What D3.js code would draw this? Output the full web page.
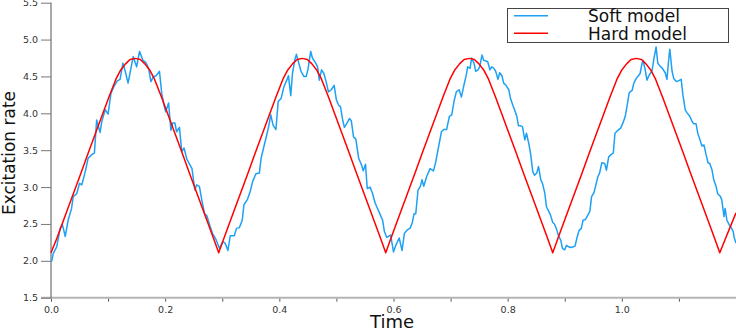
<!DOCTYPE html>
<html>
  <head>
    <script src="https://cdn.jsdelivr.net/npm/d3@7/dist/d3.min.js" charset="utf-8"></script>
    <style>
      body { margin: 0; background: white; }
      text { font-family: "DejaVu Sans", sans-serif; }
    </style>
  </head>
  <body>
    <svg id="chart" width="736" height="331"></svg>

    <script>
      // soft model: noisy trace
      var softT = [0.001,0.004,0.010,0.016,0.020,0.025,0.030,0.036,0.039,0.045,0.050,0.054,0.060,0.065,0.073,0.076,0.080,0.086,0.089,0.095,
        0.100,0.105,0.110,0.116,0.121,0.126,0.130,0.135,0.140,0.144,0.150,0.155,0.161,0.166,0.171,0.175,0.179,0.184,0.190,0.194,
        0.198,0.201,0.206,0.210,0.213,0.217,0.220,0.225,0.229,0.233,0.238,0.242,0.247,0.252,0.255,0.260,0.264,0.269,0.273,0.279,
        0.283,0.289,0.295,0.301,0.305,0.310,0.314,0.321,0.325,0.330,0.335,0.338,0.344,0.349,0.353,0.359,0.365,0.368,0.373,0.378,
        0.381,0.385,0.389,0.394,0.398,0.403,0.408,0.413,0.416,0.420,0.423,0.427,0.430,0.434,0.438,0.443,0.447,0.450,0.455,0.458,
        0.463,0.467,0.470,0.474,0.478,0.482,0.486,0.491,0.496,0.500,0.504,0.507,0.511,0.514,0.518,0.523,0.526,0.530,0.534,0.539,
        0.544,0.547,0.551,0.554,0.559,0.563,0.568,0.572,0.576,0.581,0.584,0.588,0.591,0.595,0.600,0.604,0.610,0.615,0.619,0.624,
        0.629,0.633,0.636,0.639,0.643,0.647,0.650,0.653,0.658,0.664,0.670,0.674,0.680,0.684,0.688,0.693,0.698,0.702,0.706,0.710,
        0.715,0.719,0.723,0.727,0.730,0.734,0.737,0.741,0.744,0.748,0.751,0.755,0.758,0.762,0.765,0.769,0.772,0.776,0.779,0.783,
        0.786,0.790,0.793,0.797,0.802,0.805,0.809,0.812,0.816,0.819,0.823,0.826,0.830,0.833,0.837,0.840,0.844,0.847,0.851,0.854,
        0.858,0.861,0.865,0.868,0.872,0.875,0.879,0.882,0.886,0.889,0.893,0.896,0.900,0.903,0.907,0.910,0.915,0.918,0.922,0.925,
        0.929,0.932,0.936,0.939,0.944,0.947,0.951,0.954,0.958,0.961,0.965,0.970,0.973,0.977,0.981,0.985,0.988,0.993,0.998,1.002,
        1.006,1.009,1.013,1.018,1.021,1.025,1.028,1.032,1.035,1.037,1.041,1.044,1.048,1.053,1.056,1.060,1.063,1.067,1.071,1.076,
        1.079,1.082,1.084,1.088,1.091,1.096,1.099,1.104,1.107,1.111,1.114,1.119,1.123,1.126,1.130,1.133,1.137,1.140,1.144,1.147,
        1.151,1.154,1.158,1.161,1.165,1.168,1.172,1.175,1.179,1.181,1.184,1.188,1.191,1.195,1.197,1.200];
      var softV = [1.99,2.10,2.19,2.44,2.49,2.33,2.55,2.71,2.87,2.91,3.05,3.03,3.21,3.39,3.45,3.46,3.91,3.74,3.89,4.05,
        3.99,4.27,4.36,4.44,4.46,4.68,4.57,4.41,4.61,4.77,4.63,4.84,4.72,4.69,4.61,4.43,4.49,4.51,4.57,4.27,
        4.11,4.02,4.14,3.77,3.87,3.87,3.75,3.81,3.48,3.53,3.38,3.32,3.25,2.96,3.03,3.01,2.83,2.64,2.61,2.46,
        2.37,2.29,2.17,2.26,2.24,2.14,2.34,2.34,2.44,2.45,2.55,2.76,2.83,2.94,3.07,3.18,3.19,3.39,3.55,3.71,
        3.81,3.98,3.84,3.78,4.16,4.20,4.36,4.45,4.51,4.24,4.54,4.72,4.80,4.68,4.57,4.50,4.50,4.59,4.84,4.75,
        4.69,4.63,4.45,4.59,4.54,4.43,4.29,4.32,4.38,4.18,4.11,4.09,3.91,3.81,3.86,3.93,3.90,3.68,3.65,3.39,
        3.30,3.22,3.31,2.98,3.00,2.92,2.78,2.71,2.64,2.55,2.40,2.32,2.33,2.35,2.12,2.21,2.31,2.14,2.37,2.42,
        2.44,2.52,2.64,2.64,2.96,3.01,3.10,3.01,3.14,3.25,3.22,3.34,3.59,3.75,3.78,3.78,3.96,3.98,4.16,4.29,
        4.32,4.22,4.37,4.50,4.63,4.61,4.75,4.68,4.57,4.59,4.63,4.79,4.72,4.71,4.70,4.59,4.63,4.61,4.57,4.46,
        4.55,4.51,4.41,4.38,4.32,4.20,4.11,4.05,3.96,3.83,3.83,3.82,3.64,3.73,3.59,3.46,3.21,3.16,3.19,3.28,
        3.10,3.05,2.92,2.73,2.67,2.62,2.52,2.50,2.42,2.34,2.28,2.17,2.15,2.21,2.19,2.18,2.19,2.20,2.33,2.41,
        2.44,2.55,2.56,2.60,2.67,2.87,2.92,3.01,3.14,3.19,3.33,3.32,3.23,3.41,3.44,3.46,3.73,3.77,3.80,3.87,
        3.96,4.09,4.28,4.31,4.41,4.47,4.50,4.54,4.66,4.72,4.59,4.45,4.52,4.58,4.73,4.90,4.68,4.64,4.61,4.55,
        4.46,4.72,4.87,4.57,4.47,4.43,4.44,4.46,4.25,4.05,4.01,3.96,3.89,3.86,3.86,3.73,3.64,3.56,3.57,3.46,
        3.33,3.32,3.23,3.10,3.01,2.91,2.88,2.83,2.60,2.71,2.55,2.49,2.46,2.40,2.31,2.24];

      // hard model: sharp minima, rounded maxima
      var hardT = [0.0000,0.0105,0.0195,0.0305,0.0425,0.0535,0.0655,0.0775,0.0895,0.1015,0.1135,0.1215,0.1305,0.1385,0.1475,
        0.1565,0.1645,0.1735,0.1815,0.1935,0.2055,0.2175,0.2295,0.2415,0.2525,0.2645,0.2755,0.2845,0.2938,
        0.3031,0.3121,0.3231,0.3351,0.3461,0.3581,0.3701,0.3821,0.3941,0.4061,0.4141,0.4231,0.4311,0.4401,
        0.4491,0.4571,0.4661,0.4741,0.4861,0.4981,0.5101,0.5221,0.5341,0.5451,0.5571,0.5681,0.5771,0.5864,
        0.5957,0.6047,0.6157,0.6277,0.6387,0.6507,0.6627,0.6747,0.6867,0.6987,0.7067,0.7157,0.7237,0.7327,
        0.7417,0.7497,0.7587,0.7667,0.7787,0.7907,0.8027,0.8147,0.8267,0.8377,0.8497,0.8607,0.8697,0.8790,
        0.8883,0.8973,0.9083,0.9203,0.9313,0.9433,0.9553,0.9673,0.9793,0.9913,0.9993,1.0083,1.0163,1.0253,
        1.0343,1.0423,1.0513,1.0593,1.0713,1.0833,1.0953,1.1073,1.1193,1.1303,1.1423,1.1533,1.1623,1.1716,
        1.1809,1.1899,1.2000];
      var hardV = [2.11,2.31,2.50,2.73,2.98,3.21,3.47,3.72,3.97,4.22,4.46,4.58,4.67,4.73,4.745,
        4.73,4.67,4.58,4.46,4.22,3.97,3.72,3.47,3.21,2.98,2.73,2.50,2.31,2.11,
        2.31,2.50,2.73,2.98,3.21,3.47,3.72,3.97,4.22,4.46,4.58,4.67,4.73,4.745,
        4.73,4.67,4.58,4.46,4.22,3.97,3.72,3.47,3.21,2.98,2.73,2.50,2.31,2.11,
        2.31,2.50,2.73,2.98,3.21,3.47,3.72,3.97,4.22,4.46,4.58,4.67,4.73,4.745,
        4.73,4.67,4.58,4.46,4.22,3.97,3.72,3.47,3.21,2.98,2.73,2.50,2.31,2.11,
        2.31,2.50,2.73,2.98,3.21,3.47,3.72,3.97,4.22,4.46,4.58,4.67,4.73,4.745,
        4.73,4.67,4.58,4.46,4.22,3.97,3.72,3.47,3.21,2.98,2.73,2.50,2.31,2.11,
        2.29,2.46,2.65];

      var xTicks = [0, 0.1, 0.2, 0.3, 0.4, 0.5, 0.6, 0.7, 0.8, 0.9, 1.0, 1.1];
      var yTicks = [1.5, 2.0, 2.5, 3.0, 3.5, 4.0, 4.5, 5.0, 5.5];
      var seriesNames = ["Soft model", "Hard model"];
      var seriesColors = ["#1ea0f5", "#ff0000"];

      var svg = d3.select("#chart");
      var x = d3.scaleLinear().domain([0, 1.2]).range([51, 736]);
      var y = d3.scaleLinear().domain([1.5, 5.5]).range([297.7, 2.7]);

      // x axis: light thick line, short dark ticks below
      svg.append("line")
        .attr("x1", 41).attr("x2", 736)
        .attr("y1", y(1.5)).attr("y2", y(1.5))
        .attr("stroke", "#b4b4b4").attr("stroke-width", 2);

      var xAxis = svg.append("g")
        .attr("transform", "translate(0," + (y(1.5) + 1) + ")")
        .call(d3.axisBottom(x).tickValues(xTicks).tickSize(3).tickPadding(5)
          .tickFormat(function(d) { return Math.round(d * 10) % 2 === 0 ? d3.format(".1f")(d) : ""; }));
      xAxis.select(".domain").remove();
      xAxis.selectAll(".tick line").attr("stroke", "#555");
      xAxis.selectAll(".tick text").attr("fill", "#333").style("font-size", "9.5px");

      var yAxis = svg.append("g")
        .attr("transform", "translate(51,0)")
        .call(d3.axisLeft(y).tickValues(yTicks).tickSize(10).tickPadding(3).tickFormat(d3.format(".1f")));
      yAxis.select(".domain").attr("stroke", "#555").attr("d", "M0," + y(5.5) + "V" + y(1.5));
      yAxis.selectAll(".tick line").attr("stroke", "#777");
      yAxis.selectAll(".tick text").attr("fill", "#333").style("font-size", "9.5px");

      var softLine = d3.line()
        .x(function(d, i) { return x(softT[i]); })
        .y(function(d) { return y(d); });
      var hardLine = d3.line()
        .x(function(d, i) { return x(hardT[i]); })
        .y(function(d) { return y(d); });

      svg.append("path").attr("d", softLine(softV))
        .attr("fill", "none").attr("stroke", seriesColors[0]).attr("stroke-width", 1.5)
        .attr("stroke-linejoin", "round");
      svg.append("path").attr("d", hardLine(hardV))
        .attr("fill", "none").attr("stroke", seriesColors[1]).attr("stroke-width", 1.5)
        .attr("stroke-linejoin", "round");

      // axis titles
      svg.append("text").attr("x", 392).attr("y", 328)
        .attr("text-anchor", "middle").style("font-size", "18px").attr("fill", "#111")
        .text("Time");
      svg.append("text").attr("transform", "translate(15,153) rotate(-90)")
        .attr("text-anchor", "middle").style("font-size", "17px").attr("fill", "#111")
        .text("Excitation rate");

      // legend
      var legend = svg.append("g");
      legend.append("rect").attr("x", 507.5).attr("y", 8.5).attr("width", 221).attr("height", 34)
        .attr("fill", "white").attr("stroke", "#444").attr("stroke-width", 1);
      seriesNames.forEach(function(name, i) {
        var ly = 15.7 + i * 17.6;
        legend.append("line").attr("x1", 514).attr("x2", 548).attr("y1", ly).attr("y2", ly)
          .attr("stroke", seriesColors[i]).attr("stroke-width", 1.5);
        legend.append("text").attr("x", 588).attr("y", ly + 6.3)
          .style("font-size", "17px").attr("fill", "#111").text(name);
      });
    </script>
  </body>
</html>
